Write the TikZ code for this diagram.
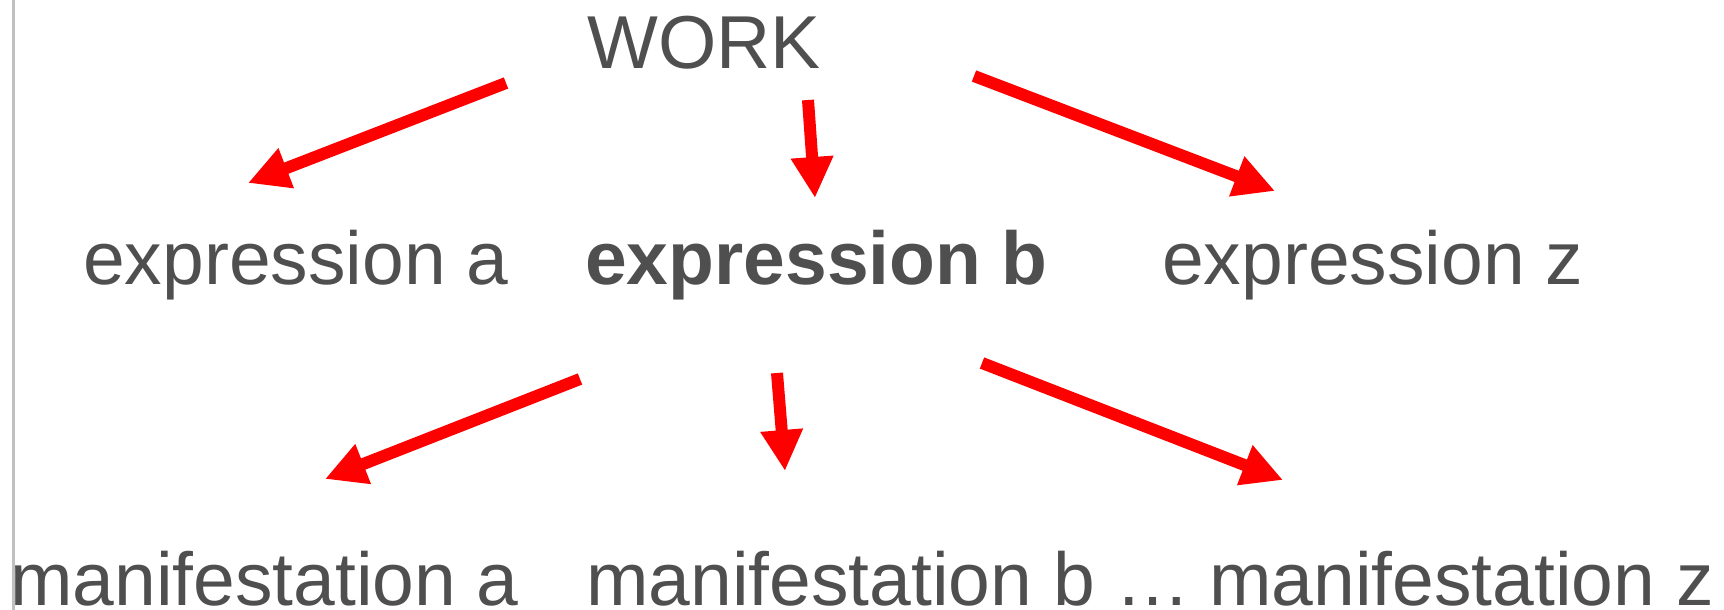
\documentclass[tikz,border=0pt]{standalone}
\usepackage{fontspec}
\setmainfont{Liberation Sans}
\usetikzlibrary{arrows.meta}
\definecolor{txt}{HTML}{4F4F4F}
\definecolor{arr}{HTML}{FF0000}
\definecolor{rule}{HTML}{C0C0C0}
\begin{document}
\begin{tikzpicture}[x=1pt,y=-1pt,
  lbl/.style={anchor=base west, inner sep=0pt, text=txt, font=\fontsize{75}{90}\selectfont},
  redarrow/.style={draw=arr, line width=12pt, -{Triangle[length=41pt,width=40pt]}}]
\useasboundingbox (0,0) rectangle (1724,610);
\fill[white] (0,0) rectangle (1724,610);
\draw[rule, line width=3pt] (13.5,0) -- (13.5,610);
% nodes
\node[lbl] (work) at (587,68) {WORK};
\node[lbl] (expa) at (83,284) {expression a};
\node[lbl] (expb) at (585,284) {\bfseries expression b};
\node[lbl] (expz) at (1162,284) {expression z};
\node[lbl] (mana) at (10,605) {manifestation a};
\node[lbl] (manb) at (586,605) {manifestation b …};
\node[lbl] (manz) at (1209,605) {manifestation z};
% arrow endpoints
\coordinate (w1) at (506,83);
\coordinate (a1) at (248,183);
\coordinate (w2) at (808,100);
\coordinate (b1) at (815,198);
\coordinate (w3) at (974,76);
\coordinate (z1) at (1275,191);
\coordinate (e1) at (580,379);
\coordinate (ma) at (325,479);
\coordinate (e2) at (777,373);
\coordinate (mb) at (785,471);
\coordinate (e3) at (982,363);
\coordinate (mz) at (1283,480);
\draw[redarrow] (w1) -- (a1);
\draw[redarrow] (w2) -- (b1);
\draw[redarrow] (w3) -- (z1);
\draw[redarrow] (e1) -- (ma);
\draw[redarrow] (e2) -- (mb);
\draw[redarrow] (e3) -- (mz);
\end{tikzpicture}
\end{document}
